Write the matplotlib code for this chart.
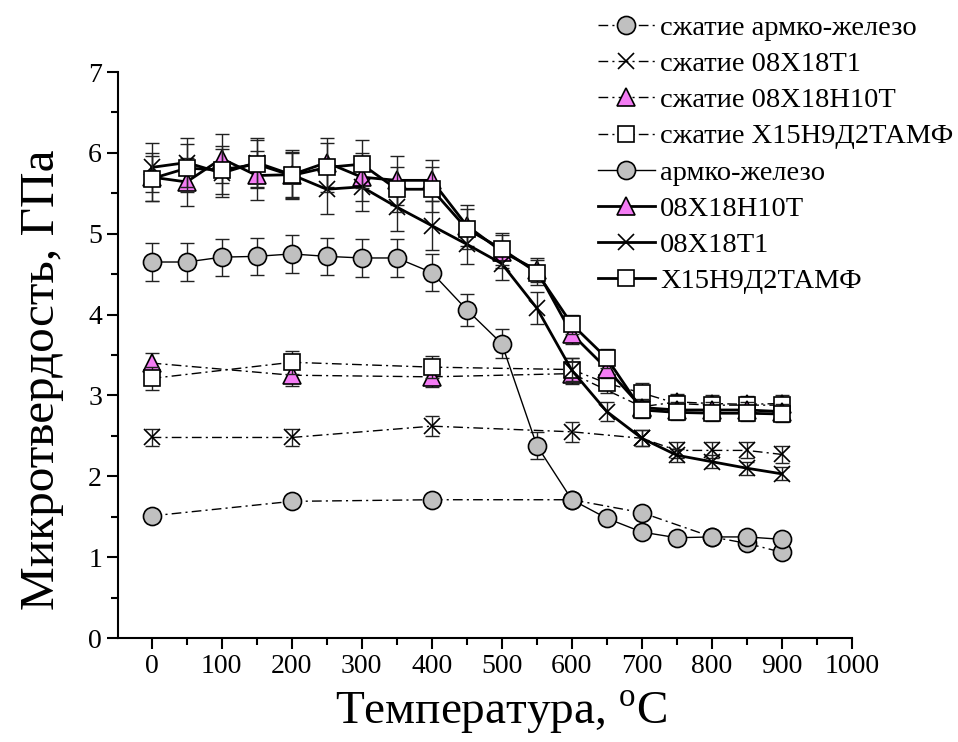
import numpy as np
import matplotlib.pyplot as plt
from matplotlib.ticker import MultipleLocator

plt.rcParams['font.family'] = ['Liberation Serif', 'DejaVu Serif']
plt.rcParams['mathtext.fontset'] = 'custom'
plt.rcParams['mathtext.rm'] = 'Liberation Serif'

# Données (température, °C)
T = [0, 50, 100, 150, 200, 250, 300, 350, 400, 450, 500, 550, 600, 650, 700, 750, 800, 850, 900]

armco = [4.65, 4.65, 4.71, 4.72, 4.75, 4.72, 4.70, 4.70, 4.52, 4.06, 3.64, 2.38, 1.71, 1.48, 1.31, 1.24, 1.25, 1.25, 1.22]
armco_err = [0.23, 0.23, 0.23, 0.23, 0.23, 0.23, 0.23, 0.23, 0.23, 0.2, 0.18, 0.17, 0.06, 0.06, 0.06, 0.05, 0.05, 0.05, 0.05]

h10t = [5.70, 5.64, 5.93, 5.72, 5.73, 5.88, 5.70, 5.66, 5.66, 5.10, 4.78, 4.55, 3.76, 3.33, 2.85, 2.82, 2.82, 2.82, 2.80]
h10t_err = [0.3, 0.3, 0.3, 0.3, 0.3, 0.3, 0.3, 0.3, 0.25, 0.25, 0.2, 0.15, 0.12, 0.12, 0.1, 0.1, 0.1, 0.1, 0.1]

x18t1 = [5.82, 5.88, 5.75, 5.88, 5.73, 5.55, 5.58, 5.33, 5.10, 4.87, 4.63, 4.08, 3.31, 2.80, 2.47, 2.26, 2.18, 2.10, 2.03]
x18t1_err = [0.3, 0.3, 0.3, 0.3, 0.28, 0.3, 0.3, 0.3, 0.3, 0.25, 0.2, 0.2, 0.15, 0.12, 0.1, 0.08, 0.08, 0.08, 0.08]

x15 = [5.68, 5.81, 5.79, 5.86, 5.72, 5.82, 5.86, 5.55, 5.55, 5.06, 4.81, 4.52, 3.88, 3.46, 2.82, 2.79, 2.78, 2.78, 2.77]
x15_err = [0.28, 0.3, 0.3, 0.3, 0.28, 0.3, 0.3, 0.28, 0.28, 0.25, 0.2, 0.15, 0.12, 0.12, 0.1, 0.1, 0.1, 0.1, 0.1]

# сжатие
T_c_armco = [0, 200, 400, 600, 700, 800, 850, 900]
c_armco = [1.51, 1.69, 1.71, 1.71, 1.55, 1.25, 1.17, 1.06]
c_armco_err = [0.06, 0.06, 0.06, 0.06, 0.06, 0.05, 0.05, 0.05]

T_c_x18t1 = [0, 200, 400, 600, 700, 750, 800, 850, 900]
c_x18t1 = [2.48, 2.48, 2.62, 2.55, 2.47, 2.32, 2.32, 2.32, 2.27]
c_x18t1_err = [0.1, 0.1, 0.12, 0.12, 0.1, 0.1, 0.1, 0.1, 0.1]

T_c_h10t = [0, 200, 400, 600, 700, 750, 800, 850, 900]
c_h10t = [3.40, 3.25, 3.23, 3.27, 2.86, 2.92, 2.90, 2.89, 2.90]
c_h10t_err = [0.13, 0.13, 0.13, 0.13, 0.1, 0.1, 0.1, 0.1, 0.1]

T_c_x15 = [0, 200, 400, 600, 650, 700, 750, 800, 850, 900]
c_x15 = [3.21, 3.41, 3.35, 3.32, 3.15, 3.03, 2.90, 2.88, 2.88, 2.88]
c_x15_err = [0.14, 0.14, 0.14, 0.14, 0.12, 0.12, 0.1, 0.1, 0.1, 0.1]

gris = '#c0c0c0'
rose = '#f47cf4'
dashdot = (0, (7, 3, 1.5, 3))

fig = plt.figure(figsize=(9.58, 7.42), dpi=100)
ax = fig.add_axes([118/958, 104/742, 734/958, 566/742])

def courbe(x, y, e, marker, mfc, ms, ls, lw, label, z):
    ax.errorbar(x, y, yerr=e, fmt='none', ecolor='#222222', elinewidth=1, capsize=5, capthick=1, zorder=z)
    ax.plot(x, y, color='black', ls=ls, lw=lw, marker=marker, mfc=mfc, mec='black',
            ms=ms, mew=1.2, label=label, zorder=z + 0.5)

courbe(T_c_armco, c_armco, c_armco_err, 'o', gris, 13, dashdot, 1, 'сжатие армко-железо', 2)
courbe(T_c_x18t1, c_x18t1, c_x18t1_err, 'x', 'none', 11, dashdot, 1, 'сжатие 08Х18Т1', 2)
courbe(T_c_h10t, c_h10t, c_h10t_err, '^', rose, 13, dashdot, 1, 'сжатие 08Х18Н10Т', 2)
courbe(T_c_x15, c_x15, c_x15_err, 's', 'white', 11, dashdot, 1, 'сжатие Х15Н9Д2ТАМФ', 3)
courbe(T, armco, armco_err, 'o', gris, 13, '-', 1, 'армко-железо', 4)
courbe(T, h10t, h10t_err, '^', rose, 13, '-', 2, '08Х18Н10Т', 4)
courbe(T, x18t1, x18t1_err, 'x', 'none', 11, '-', 2, '08Х18Т1', 5)
courbe(T, x15, x15_err, 's', 'white', 11, '-', 2, 'Х15Н9Д2ТАМФ', 6)

ax.set_xlim(-48, 1000)
ax.set_ylim(0, 7)
ax.xaxis.set_major_locator(MultipleLocator(100))
ax.xaxis.set_minor_locator(MultipleLocator(50))
ax.yaxis.set_major_locator(MultipleLocator(1))
ax.yaxis.set_minor_locator(MultipleLocator(0.5))
ax.tick_params(which='major', direction='out', length=8, width=1.5, labelsize=20)
ax.tick_params(which='minor', direction='out', length=5, width=1.5)
for s in ['top', 'right']:
    ax.spines[s].set_visible(False)
for s in ['left', 'bottom']:
    ax.spines[s].set_linewidth(1.5)

ax.set_xlabel(r'Температура, $^\mathrm{o}$C', fontsize=34)
ax.set_ylabel('Микротвердость, ГПа', fontsize=35.5)
ax.xaxis.set_label_coords((501 - 118) / 734, -0.09)
ax.yaxis.set_label_coords(-0.074, 0.456)

ax.legend(loc='upper left', bbox_to_anchor=(598/958, 1 - 15/742), bbox_transform=fig.transFigure,
          frameon=False, fontsize=20.5, numpoints=1, handlelength=2.0, handletextpad=0.18,
          labelspacing=0.36, borderpad=0, borderaxespad=0)

plt.savefig('out.png', dpi=100)
